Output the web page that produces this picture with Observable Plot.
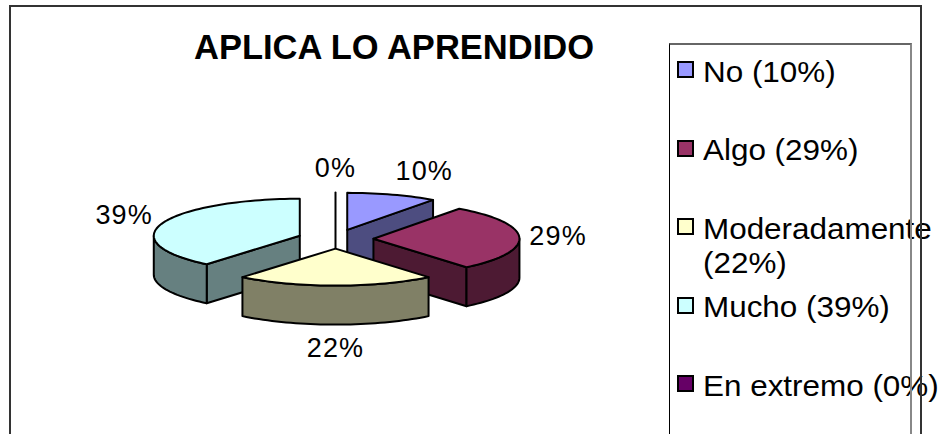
<!DOCTYPE html>
<html>
<head>
<meta charset="utf-8">
<script src="https://cdn.jsdelivr.net/npm/d3@7"></script>
<script src="https://cdn.jsdelivr.net/npm/@observablehq/plot@0.6"></script>
<style>
html, body { margin: 0; padding: 0; background: #fff; }
#wrap { position: relative; width: 943px; height: 434px; overflow: hidden; font-family: "Liberation Sans", Arial, sans-serif; color: #000; }
#chart { position: absolute; left: 0; top: 0; }
#title { position: absolute; left: 394px; top: 27px; transform: translateX(-50%); font-weight: bold; font-size: 34.5px; line-height: 40px; white-space: nowrap; }
.item { position: absolute; left: 677px; }
.sw { position: absolute; left: 0; top: 0; width: 13px; height: 13px; border: 2px solid #000; }
.txt { position: absolute; left: 26px; top: -6.2px; width: 240px; font-size: 29.5px; line-height: 34px; transform: scaleX(1.065); transform-origin: 0 0; }
#legendBox { position: absolute; left: 669px; top: 43px; width: 240px; height: 600px; border-left: 1px solid #000; border-top: 2px solid #666; border-right: 2px solid #888; }
#frame { position: absolute; left: 9px; top: 5px; width: 909px; height: 600px; border: 2px solid #333; }
</style>
</head>
<body>
<div id="wrap">
  <div id="chart"></div>
  <div id="title">APLICA LO APRENDIDO</div>
  <div id="legend"></div>
  <div id="legendBox"></div>
  <div id="frame"></div>
</div>
<script>
// ---- data ----
const categories = ["No", "Algo", "Moderadamente", "Mucho", "En extremo"];
const values = [10, 29, 22, 39, 0];
const topColors = ["#9999FF", "#993366", "#FFFFCC", "#CCFFFF", "#660066"];
const sideColors = ["#4D4D80", "#4D1A33", "#808066", "#668080", "#330033"];
const pctLabels = values.map(v => v + "%");
const chartTitle = "APLICA LO APRENDIDO";

// ---- geometry (pie units: radius = 1) ----
const W = 943, H = 434;
const PX = 146;          // pixels per pie unit
const CX = 335, CY = 238.5;
const tilt = 0.2534;     // vertical squash of the ellipse
const thick = 0.267;     // depth of the pie
const explode = 0.26;    // explosion distance

const total = d3.sum(values);
let acc = 0;
const slices = values.map((v, i) => {
  const a0 = acc / total * 2 * Math.PI;
  acc += v;
  const a1 = acc / total * 2 * Math.PI;
  const m = (a0 + a1) / 2;
  return {i, v, a0, a1, m, ox: explode * Math.sin(m), oy: explode * tilt * Math.cos(m)};
});
const pt = (s, a, rho, bottom) => ({
  x: s.ox + rho * Math.sin(a),
  y: s.oy + rho * tilt * Math.cos(a) - (bottom ? thick : 0)
});
function arc(s, b0, b1, bottom) {
  const n = Math.max(2, Math.ceil((b1 - b0) / (Math.PI / 90)));
  return d3.range(n + 1).map(k => pt(s, b0 + (b1 - b0) * k / n, 1, bottom));
}
function faces(s) {
  const out = [];
  const apexT = pt(s, 0, 0, false), apexB = pt(s, 0, 0, true);
  if (s.v === 0) {
    out.push({line: true, pts: [pt(s, s.a0, 1, false), apexB]});
    return out;
  }
  // radial walls
  const radial = a => [apexT, pt(s, a, 1, false), pt(s, a, 1, true), apexB, apexT];
  if (Math.sin(s.a0) < -1e-9) out.push({pts: radial(s.a0), color: sideColors[s.i]});
  if (Math.sin(s.a1) > 1e-9) out.push({pts: radial(s.a1), color: sideColors[s.i]});
  // outer wall (front half only)
  const b0 = Math.max(s.a0, Math.PI / 2), b1 = Math.min(s.a1, 3 * Math.PI / 2);
  if (b1 > b0) {
    const t = arc(s, b0, b1, false), b = arc(s, b0, b1, true).reverse();
    out.push({pts: [...t, ...b, t[0]], color: sideColors[s.i]});
  }
  // top face
  out.push({pts: [apexT, ...arc(s, s.a0, s.a1, false), apexT], color: topColors[s.i]});
  return out;
}

const order = slices.slice().sort((a, b) => Math.cos(b.m) - Math.cos(a.m));
const marks = [];
order.forEach(s => {
  faces(s).forEach(f => {
    if (f.line) {
      marks.push(Plot.line(f.pts, {x: "x", y: "y", stroke: "#000", strokeWidth: 2}));
    } else {
      marks.push(Plot.line(f.pts, {x: "x", y: "y", fill: f.color, stroke: "#000", strokeWidth: 2, strokeLinejoin: "round"}));
    }
  });
});

// ---- data labels ----
const fs = 27;
const labelData = slices.map(s => {
  const txt = pctLabels[s.i];
  const w = (fs * (0.556 * (txt.length - 1) + 0.889) + 1.2 * txt.length) / PX;
  const front = Math.cos(s.m) < 0;
  const P = pt(s, s.m, 1, front);
  const sx = Math.sin(s.m), cz = Math.cos(s.m);
  const gx = 10 / PX, gy = 14 / PX, hh = 10 / PX;
  const sgn = Math.abs(sx) < 1e-6 ? 0 : Math.sign(sx);
  return {
    text: txt,
    x: P.x + sx * gx + sgn * Math.min(1, Math.abs(sx) / 0.3) * w / 2,
    y: P.y + cz * (hh + gy)
  };
});
marks.push(Plot.text(labelData, {x: "x", y: "y", text: "text", fontSize: fs, fill: "#000", textAnchor: "middle", lineAnchor: "middle", fontFamily: "Liberation Sans, Arial, sans-serif"}));

const plot = Plot.plot({
  width: W, height: H,
  margin: 0,
  x: {domain: [-CX / PX, (W - CX) / PX], axis: null},
  y: {domain: [-(H - CY) / PX, CY / PX], axis: null},
  style: {background: "transparent", overflow: "visible", letterSpacing: "1.2px"},
  marks
});
document.getElementById("chart").appendChild(plot);

// ---- legend ----
const legend = document.getElementById("legend");
categories.forEach((c, i) => {
  const it = document.createElement("div");
  it.className = "item";
  it.style.top = (61 + i * 78.5) + "px";
  const sw = document.createElement("div");
  sw.className = "sw";
  sw.style.background = topColors[i];
  const tx = document.createElement("div");
  tx.className = "txt";
  tx.textContent = c + " (" + pctLabels[i] + ")";
  it.appendChild(sw); it.appendChild(tx);
  legend.appendChild(it);
});
document.getElementById("title").textContent = chartTitle;
</script>
</body>
</html>
